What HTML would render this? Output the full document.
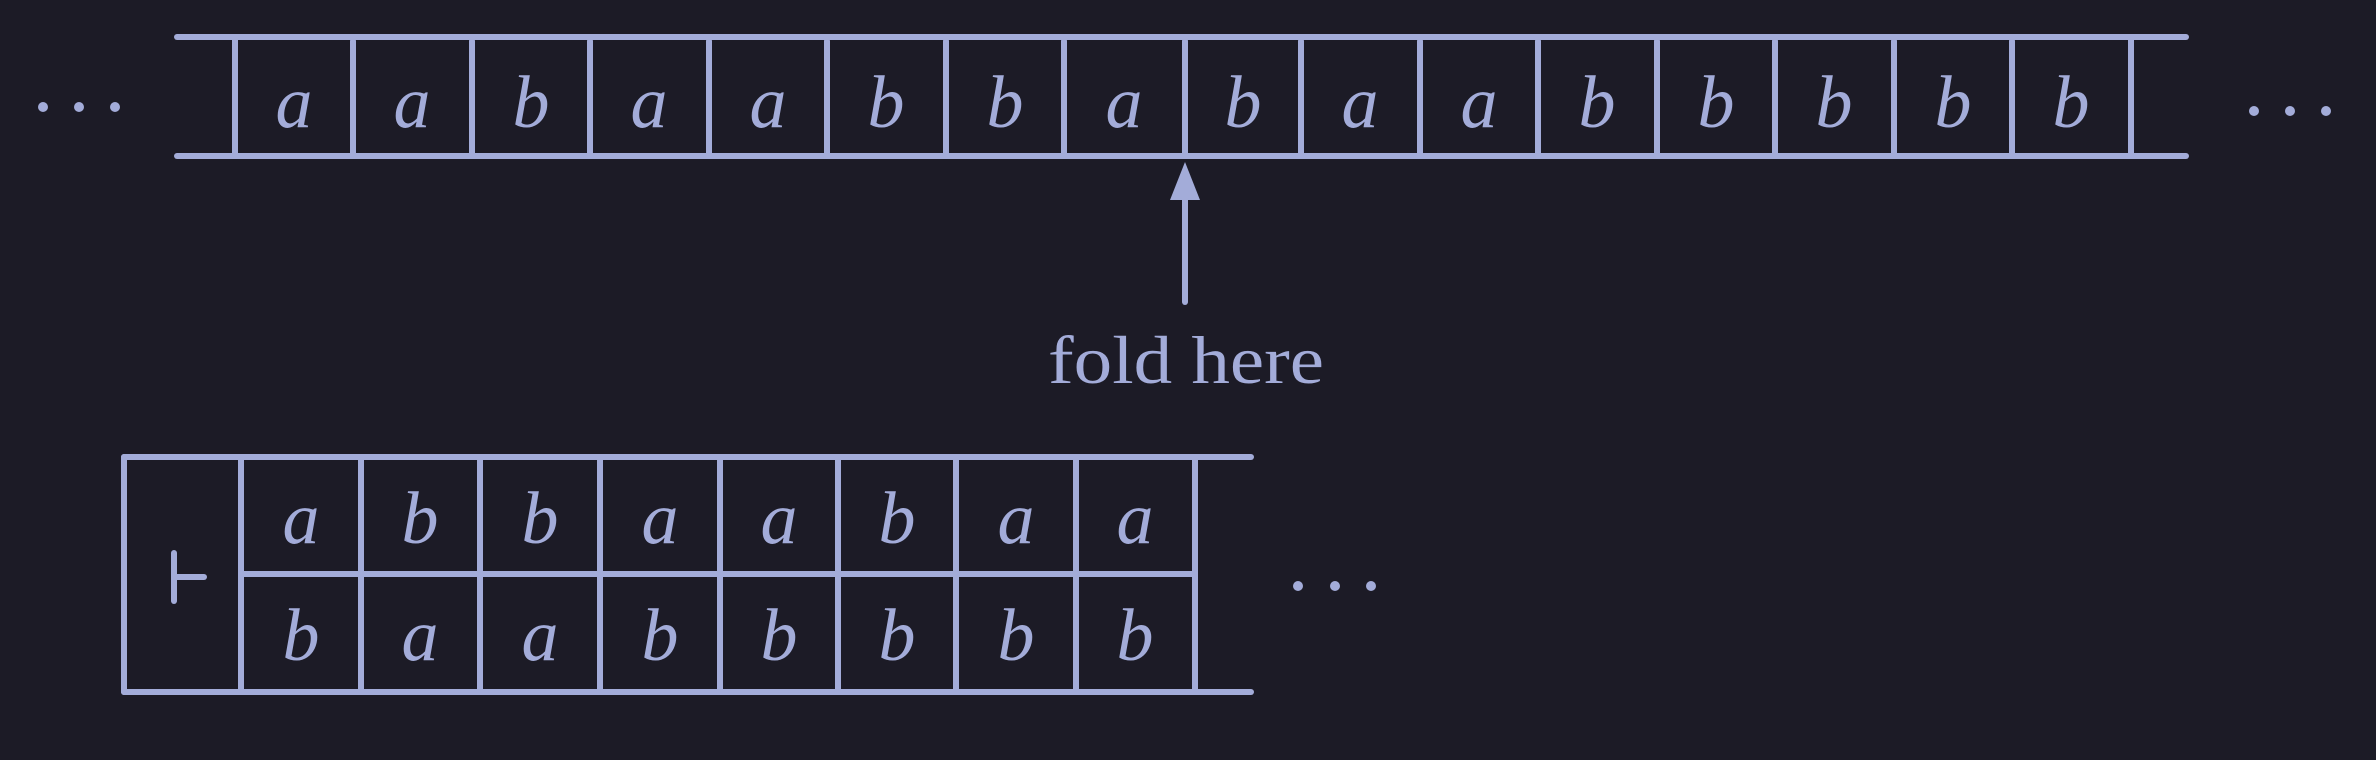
<!DOCTYPE html>
<html><head><meta charset="utf-8"><style>
html,body{margin:0;padding:0;background:#1c1b26;}
svg{display:block}
text{font-family:"Liberation Serif",serif;fill:#a3acd9}
.v{font-style:italic;font-size:74px}
</style></head><body>
<svg width="2376" height="760" viewBox="0 0 2376 760" xmlns="http://www.w3.org/2000/svg">
<g stroke="#a3acd9" stroke-width="6" fill="none" stroke-linecap="round">
<line x1="177" y1="37" x2="2186" y2="37"/>
<line x1="177" y1="156" x2="2186" y2="156"/>
<line x1="235" y1="37" x2="235" y2="156"/>
<line x1="353" y1="41" x2="353" y2="156"/>
<line x1="472" y1="41" x2="472" y2="156"/>
<line x1="590" y1="41" x2="590" y2="156"/>
<line x1="709" y1="41" x2="709" y2="156"/>
<line x1="827" y1="41" x2="827" y2="156"/>
<line x1="946" y1="41" x2="946" y2="156"/>
<line x1="1064" y1="41" x2="1064" y2="156"/>
<line x1="1185" y1="41" x2="1185" y2="156"/>
<line x1="1301" y1="41" x2="1301" y2="156"/>
<line x1="1420" y1="41" x2="1420" y2="156"/>
<line x1="1538" y1="41" x2="1538" y2="156"/>
<line x1="1657" y1="41" x2="1657" y2="156"/>
<line x1="1775" y1="41" x2="1775" y2="156"/>
<line x1="1894" y1="41" x2="1894" y2="156"/>
<line x1="2012" y1="41" x2="2012" y2="156"/>
<line x1="2131" y1="37" x2="2131" y2="156"/>
<line x1="1185" y1="195" x2="1185" y2="302"/>
<line x1="124" y1="457" x2="1251" y2="457"/>
<line x1="124" y1="692" x2="1251" y2="692"/>
<line x1="124" y1="457" x2="124" y2="692"/>
<line x1="241" y1="457" x2="241" y2="692"/>
<line x1="241" y1="574" x2="1195" y2="574"/>
<line x1="361" y1="460" x2="361" y2="692"/>
<line x1="480" y1="460" x2="480" y2="692"/>
<line x1="600" y1="460" x2="600" y2="692"/>
<line x1="720" y1="460" x2="720" y2="692"/>
<line x1="838" y1="460" x2="838" y2="692"/>
<line x1="956" y1="460" x2="956" y2="692"/>
<line x1="1076" y1="460" x2="1076" y2="692"/>
<line x1="1195" y1="457" x2="1195" y2="692"/>
<line x1="174" y1="553" x2="174" y2="601"/>
<line x1="174" y1="577" x2="204" y2="577"/>
</g>
<polygon points="1185,162 1170,200 1200,200" fill="#a3acd9"/>
<g fill="#a3acd9">
<circle cx="43" cy="107" r="5"/><circle cx="79" cy="107" r="5"/><circle cx="115" cy="107" r="5"/>
<circle cx="2254" cy="111" r="5"/><circle cx="2290" cy="111" r="5"/><circle cx="2326" cy="111" r="5"/>
<circle cx="1298" cy="586" r="5"/><circle cx="1335" cy="586" r="5"/><circle cx="1371" cy="586" r="5"/>
</g>
<g text-anchor="middle">
<text class="v" x="294" y="127">a</text>
<text class="v" x="412" y="127">a</text>
<text class="v" x="531" y="127">b</text>
<text class="v" x="649" y="127">a</text>
<text class="v" x="768" y="127">a</text>
<text class="v" x="886" y="127">b</text>
<text class="v" x="1005" y="127">b</text>
<text class="v" x="1124" y="127">a</text>
<text class="v" x="1243" y="127">b</text>
<text class="v" x="1360" y="127">a</text>
<text class="v" x="1479" y="127">a</text>
<text class="v" x="1597" y="127">b</text>
<text class="v" x="1716" y="127">b</text>
<text class="v" x="1834" y="127">b</text>
<text class="v" x="1953" y="127">b</text>
<text class="v" x="2071" y="127">b</text>
<text class="v" x="301" y="543">a</text>
<text class="v" x="420" y="543">b</text>
<text class="v" x="540" y="543">b</text>
<text class="v" x="660" y="543">a</text>
<text class="v" x="779" y="543">a</text>
<text class="v" x="897" y="543">b</text>
<text class="v" x="1016" y="543">a</text>
<text class="v" x="1135" y="543">a</text>
<text class="v" x="301" y="660">b</text>
<text class="v" x="420" y="660">a</text>
<text class="v" x="540" y="660">a</text>
<text class="v" x="660" y="660">b</text>
<text class="v" x="779" y="660">b</text>
<text class="v" x="897" y="660">b</text>
<text class="v" x="1016" y="660">b</text>
<text class="v" x="1135" y="660">b</text>
</g>
<text x="1186" y="383" text-anchor="middle" font-size="68" textLength="276" lengthAdjust="spacingAndGlyphs">fold here</text>
</svg>
</body></html>
